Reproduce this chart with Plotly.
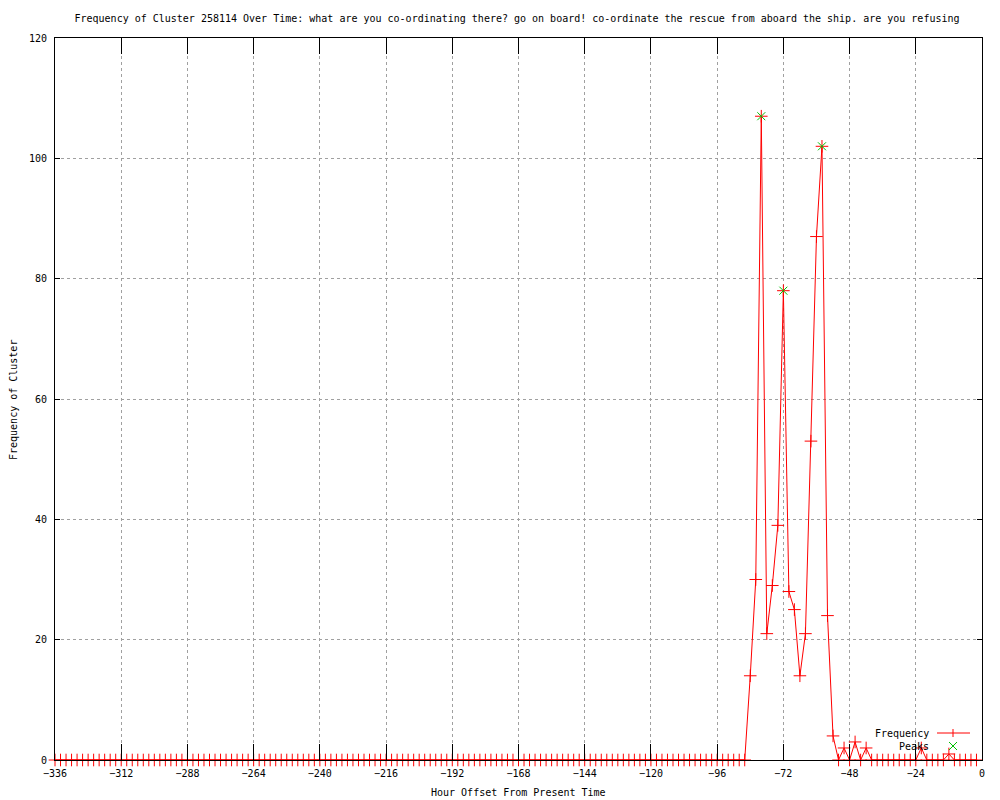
import plotly.graph_objects as go

# ---- data ----
hours = list(range(-336, 0, 2))  # -336 ... -2, every 2 hours
freq = (
    [0] * 126
    + [14, 30, 107, 21, 29, 39, 78, 28, 25, 14, 21, 53, 87, 102, 24, 4, 0, 2, 0, 3, 0, 2]
    + [0] * 9 + [2] + [0] * 4 + [1] + [0] * 5
)
peak_hours = [-80, -72, -58]
peak_vals = [107, 78, 102]

x_ticks = list(range(-336, 1, 24))
y_ticks = list(range(0, 121, 20))

title_text = ("Frequency of Cluster 258114 Over Time: what are you co-ordinating there? "
              "go on board! co-ordinate the rescue from aboard the ship. are you refusing")

FONT = "DejaVu Sans Mono"
RED = "#ff0000"
GREEN = "#00c000"

fig = go.Figure()
fig.add_trace(go.Scatter(
    x=hours, y=freq, mode="lines+markers", name="Frequency",
    line=dict(color=RED, width=1),
    marker=dict(symbol="cross-thin", size=9, line=dict(color=RED, width=1), color=RED),
    cliponaxis=False, showlegend=False,
))
fig.add_trace(go.Scatter(
    x=peak_hours, y=peak_vals, mode="markers", name="Peaks",
    marker=dict(symbol="x-thin", size=8, line=dict(color=GREEN, width=1), color=GREEN),
    cliponaxis=False, showlegend=False,
))

axis_common = dict(
    showline=True, linecolor="black", linewidth=1, mirror="ticks",
    ticks="inside", tickcolor="black", tickwidth=1,
    showgrid=True, gridcolor="#a0a0a0", griddash="dot", gridwidth=1,
    zeroline=False, tickfont=dict(family=FONT, size=10, color="black"),
)
fig.update_xaxes(range=[-336, 0], tickvals=x_ticks, ticklen=16,
                 ticklabelstandoff=4, **axis_common)
fig.update_yaxes(range=[0, 120], tickvals=y_ticks, ticklen=5,
                 ticklabelstandoff=5, **axis_common)

# page body has an 8px margin, so the figure starts at screen (8, 8)
OX, OY = 8, 8
W, H = 1000 - OX, 800 - OY
# plot area in screen pixels
SL, ST, SR, SB = 55, 38, 982, 760
L, T = SL - OX, ST - OY
R, B = (OX + W) - SR, (OY + H) - SB
pw, ph = SR - SL, SB - ST

def px(xs):
    return (xs - SL) / pw

def py(ys):
    return (SB - ys) / ph

annotations = [
    dict(text="Hour Offset From Present Time", xref="paper", yref="paper",
         x=px(518), y=py(792), xanchor="center", yanchor="middle", showarrow=False,
         font=dict(family=FONT, size=10, color="black")),
    dict(text="Frequency of Cluster", xref="paper", yref="paper",
         x=px(13), y=py(400), xanchor="center", yanchor="middle", showarrow=False,
         textangle=-90, font=dict(family=FONT, size=10, color="black")),
    dict(text="Frequency", xref="paper", yref="paper",
         x=px(931), y=py(733), xanchor="right", yanchor="middle", showarrow=False,
         font=dict(family=FONT, size=10, color="black")),
    dict(text="Peaks", xref="paper", yref="paper",
         x=px(931), y=py(746), xanchor="right", yanchor="middle", showarrow=False,
         font=dict(family=FONT, size=10, color="black")),
]

# legend samples (drawn as shapes in paper coordinates)
shapes = [
    dict(type="line", xref="paper", yref="paper", x0=px(937), x1=px(970),
         y0=py(733), y1=py(733), line=dict(color=RED, width=1)),
    dict(type="line", xref="paper", yref="paper", x0=px(953), x1=px(953),
         y0=py(729), y1=py(737), line=dict(color=RED, width=1)),
    dict(type="line", xref="paper", yref="paper", x0=px(949), x1=px(957),
         y0=py(742), y1=py(750), line=dict(color=GREEN, width=1)),
    dict(type="line", xref="paper", yref="paper", x0=px(949), x1=px(957),
         y0=py(750), y1=py(742), line=dict(color=GREEN, width=1)),
]

fig.update_layout(
    width=W, height=H,
    margin=dict(l=L, r=R, t=T, b=B, autoexpand=False),
    paper_bgcolor="white", plot_bgcolor="white",
    title=dict(text=title_text, x=px(517), xref="paper", xanchor="center",
               y=1 - (18 - OY) / H, yref="container", yanchor="middle",
               font=dict(family=FONT, size=10, color="black")),
    font=dict(family=FONT, size=10, color="black"),
    annotations=annotations, shapes=shapes,
    showlegend=False,
)

fig.write_html("out.html")
